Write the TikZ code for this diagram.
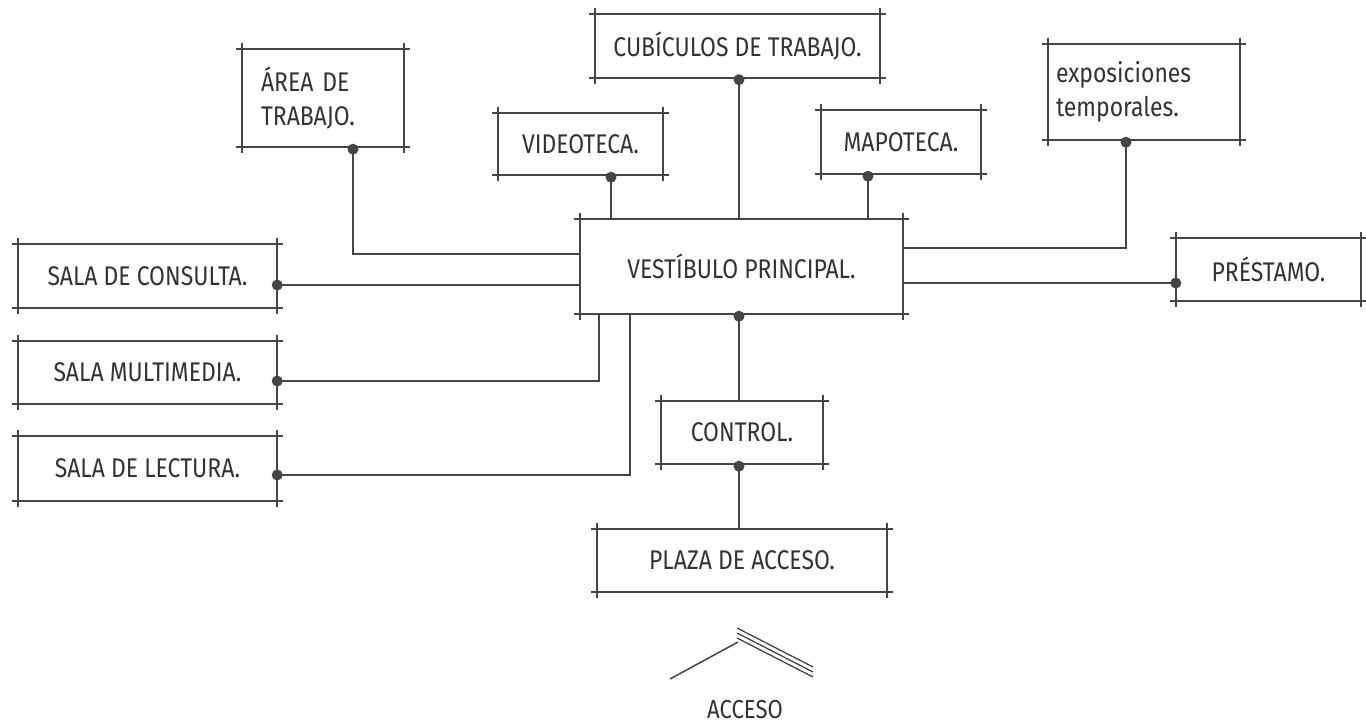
\documentclass[tikz,border=0pt]{standalone}
\usepackage{fontspec}
\setmainfont[FakeStretch=0.85]{Fira Sans}
\definecolor{ink}{HTML}{454545}
\definecolor{txt}{HTML}{333333}
\newcommand\sketchbox[1]{%
  \draw[boxline] (#1.north west) -- (#1.north east);
  \draw[boxline] (#1.south west) -- (#1.south east);
  \draw[boxline] (#1.north west) -- (#1.south west);
  \draw[boxline] (#1.north east) -- (#1.south east);}
\begin{document}
\begin{tikzpicture}[x=1pt,y=-1pt,
  box/.style={draw=none,inner sep=0pt,text=txt,font=\fontsize{27}{34}\selectfont},
  boxline/.style={draw=ink,line width=1.8pt,shorten <=-6pt,shorten >=-6pt},
  conn/.style={draw=ink,line width=1.8pt},
  dot/.style={circle,fill=ink,inner sep=0pt,minimum size=11pt}]
\useasboundingbox (0,0) rectangle (1366,726);
\fill[white] (0,0) rectangle (1366,726);
% boxes
\node[box,minimum width=162pt,minimum height=98pt,text width=124pt,align=left] (area) at (323,98) {ÁREA DE\\TRABAJO.};
\node[box,minimum width=285pt,minimum height=63pt] (cubic) at (737.5,46) {CUBÍCULOS DE TRABAJO.};
\node[box,minimum width=165pt,minimum height=62pt] (video) at (580.5,144) {VIDEOTECA.};
\node[box,minimum width=160pt,minimum height=64pt] (mapo) at (901,142) {MAPOTECA.};
\node[box,minimum width=192pt,minimum height=96pt,text width=176pt,align=left] (expo) at (1144,92) {exposiciones\\temporales.};
\node[box,minimum width=323pt,minimum height=95pt] (vest) at (741.5,266.5) {VESTÍBULO PRINCIPAL.};
\node[box,minimum width=185pt,minimum height=63pt] (prest) at (1268.5,269.5) {PRÉSTAMO.};
\node[box,minimum width=259pt,minimum height=64pt] (consul) at (147.5,276) {SALA DE CONSULTA.};
\node[box,minimum width=259pt,minimum height=63pt] (multi) at (147.5,372.5) {SALA MULTIMEDIA.};
\node[box,minimum width=259pt,minimum height=64pt] (lect) at (147.5,468.5) {SALA DE LECTURA.};
\node[box,minimum width=162pt,minimum height=63pt] (control) at (742,432.5) {CONTROL.};
\node[box,minimum width=290pt,minimum height=63pt] (plaza) at (742,560.5) {PLAZA DE ACCESO.};
\foreach \b in {area,cubic,video,mapo,expo,vest,prest,consul,multi,lect,control,plaza}{\sketchbox{\b}}
% connectors
\draw[conn] (area.south -| 353,0) |- (vest.west |- 0,254);
\draw[conn] (cubic.south -| 739,0) -- (vest.north -| 739,0);
\draw[conn] (video.south -| 611,0) -- (vest.north -| 611,0);
\draw[conn] (mapo.south -| 868,0) -- (vest.north -| 868,0);
\draw[conn] (expo.south -| 1126,0) |- (vest.east |- 0,248);
\draw[conn] (vest.east |- 0,283) -- (prest.west |- 0,283);
\draw[conn] (consul.east |- 0,285) -- (vest.west |- 0,285);
\draw[conn] (multi.east |- 0,381) -| (vest.south -| 599,0);
\draw[conn] (lect.east |- 0,475) -| (vest.south -| 630,0);
\draw[conn] (vest.south -| 739,0) -- (control.north -| 739,0);
\draw[conn] (control.south -| 739,0) -- (plaza.north -| 739,0);
% dots
\node[dot] at ([yshift=-2pt]area.south -| 353,0) {};
\node[dot] at ([yshift=-2pt]cubic.south -| 739,0) {};
\node[dot] at ([yshift=-2pt]video.south -| 611,0) {};
\node[dot] at ([yshift=-2pt]mapo.south -| 868,0) {};
\node[dot] at ([yshift=-2pt]expo.south -| 1126,0) {};
\node[dot] at (prest.west |- 0,283) {};
\node[dot] at (consul.east |- 0,285) {};
\node[dot] at (multi.east |- 0,381) {};
\node[dot] at (lect.east |- 0,475) {};
\node[dot] at ([yshift=-2pt]vest.south -| 739,0) {};
\node[dot] at ([yshift=-2pt]control.south -| 739,0) {};
% access symbol
\draw[ink,line width=1.5pt] (670,679) -- (738,642);
\draw[ink,line width=1.3pt] (737,628) -- (813,667);
\draw[ink,line width=1.3pt] (737,633) -- (813,672);
\draw[ink,line width=1.3pt] (737,638) -- (813,677);
\node[text=txt,font=\fontsize{26}{28}\selectfont] (acceso) at (745,710) {ACCESO};
\end{tikzpicture}
\end{document}
